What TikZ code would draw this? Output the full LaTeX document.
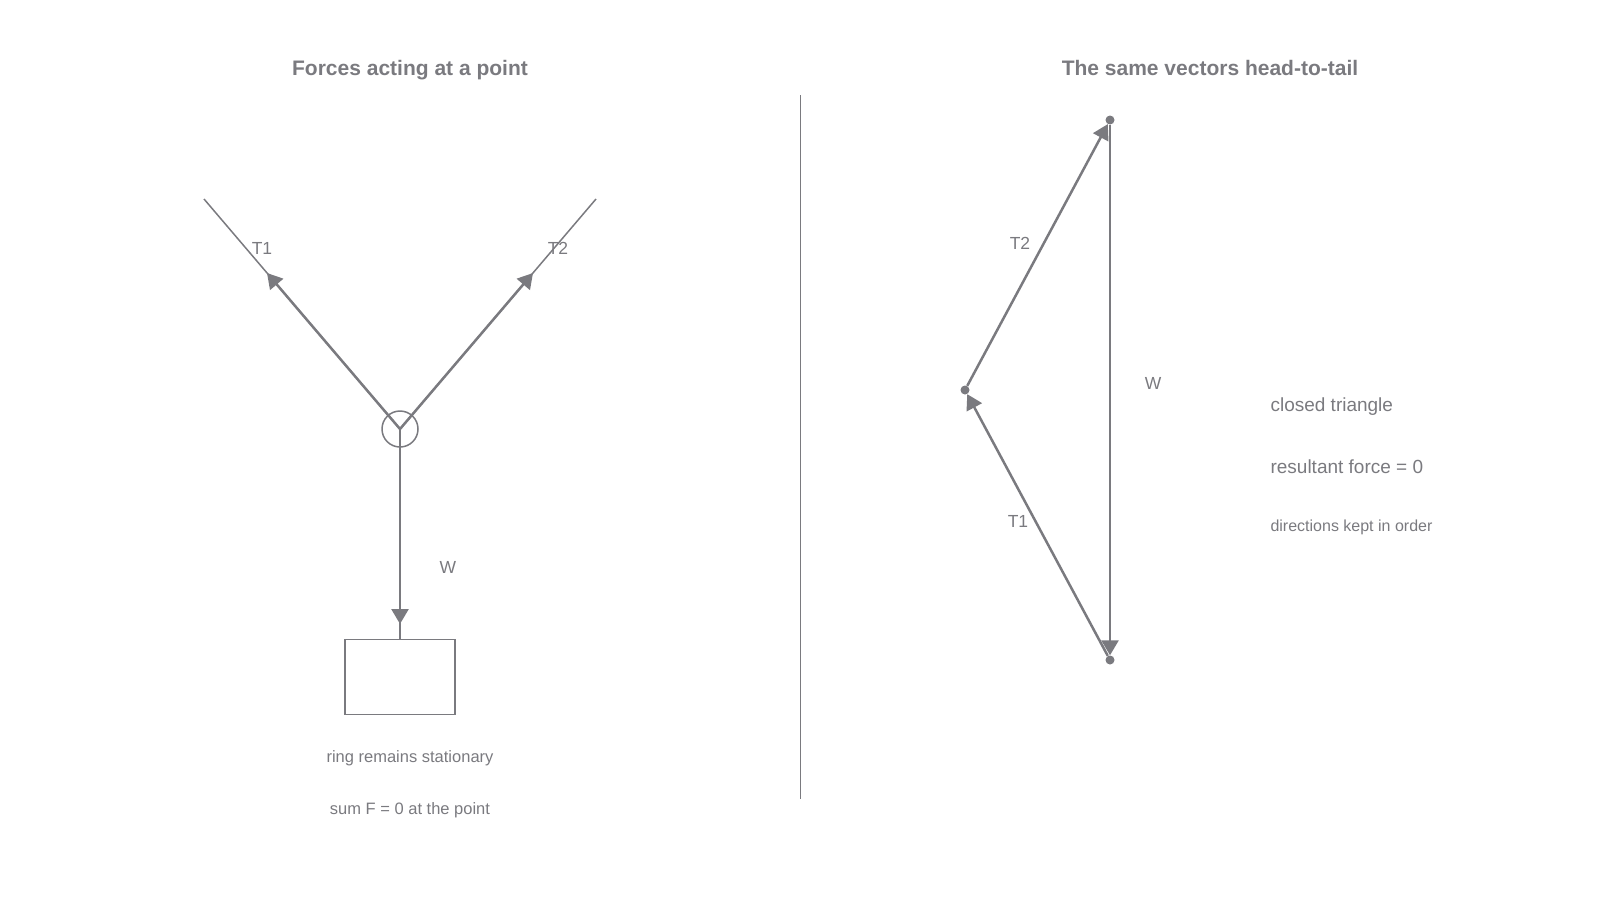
\documentclass[tikz,border=0pt]{standalone}
\usepackage{fontspec}
\setmainfont{Liberation Sans}
\usetikzlibrary{positioning,arrows.meta}
\definecolor{ink}{RGB}{122,122,127}
\newcommand{\fsz}[1]{\fontsize{#1}{#1}\selectfont}

\begin{document}
\begin{tikzpicture}[x=1pt,y=-1pt,on grid,
vec/.style={ink,line width=2.5pt,-{Triangle[length=15pt,width=17pt]}},
rope/.style={ink,line width=1.5pt},
lbl/.style={text=ink,font=\fsz{17.5}},
heading/.style={text=ink,font=\bfseries\fsz{21}},
note/.style={text=ink,font=\fsz{19}},
dot/.style={circle,fill=ink,inner sep=0pt,minimum size=9pt}
]
\useasboundingbox (0,0) rectangle (1600,900);

% left: forces at the ring
\node[heading] (headL) at (410,70) {Forces acting at a point};
\node[circle,draw=ink,line width=1.5pt,minimum size=36pt,inner sep=0pt] (ring) at (400,429) {};
\node[draw=ink,line width=1.5pt,minimum width=110pt,minimum height=75pt,inner sep=0pt] (mass) at (400,677) {};
\coordinate (ropeL) at (204,199);
\coordinate (ropeR) at (596,199);
\coordinate (tipT1) at (267,273);
\coordinate (tipT2) at (533,273);
\coordinate (tipW) at (400,624);
\draw[rope] (ring.center) -- (ropeL);
\draw[rope] (ring.center) -- (ropeR);
\draw[rope] (ring.center) -- (mass.north);
\draw[vec] (ring.center) -- (tipT1);
\draw[vec] (ring.center) -- (tipT2);
\draw[vec] (ring.center) -- (tipW);
\node[lbl] (T1a) at (262,248) {T1};
\node[lbl] (T2a) at (558,248) {T2};
\node[lbl] (Wa) at (448,567) {W};
\node[lbl,font=\fsz{16.5}] (still) at (410,758) {ring remains stationary};
\node[lbl,font=\fsz{16.5}] (sumF) [below=52pt of still] {sum F = 0 at the point};

% divider
\coordinate (divTop) at (800,95);
\coordinate (divBot) at (800,799);
\draw[ink,line width=1pt] (divTop) -- (divBot);

% right: head-to-tail triangle
\node[heading] (headR) at (1210,68) {The same vectors head-to-tail};
\node[dot] (top) at (1110,120) {};
\node[dot] (apex) at (965,390) {};
\node[dot] (bot) at (1110,660) {};
\draw[vec] (bot) -- (apex);
\draw[vec] (apex) -- (top);
\draw[vec] (top) -- (bot);
\node[lbl] (T2b) at (1020,243) {T2};
\node[lbl] (T1b) at (1018,521) {T1};
\node[lbl] (Wb) at (1153,383) {W};
\node[note,anchor=west] (closed) at (1267,407) {closed triangle};
\node[note] (zero) [below=60pt of closed.west,anchor=west] {resultant force = 0};
\node[lbl,font=\fsz{16}] (order) [below=60pt of zero.west,anchor=west] {directions kept in order};
\end{tikzpicture}
\end{document}
